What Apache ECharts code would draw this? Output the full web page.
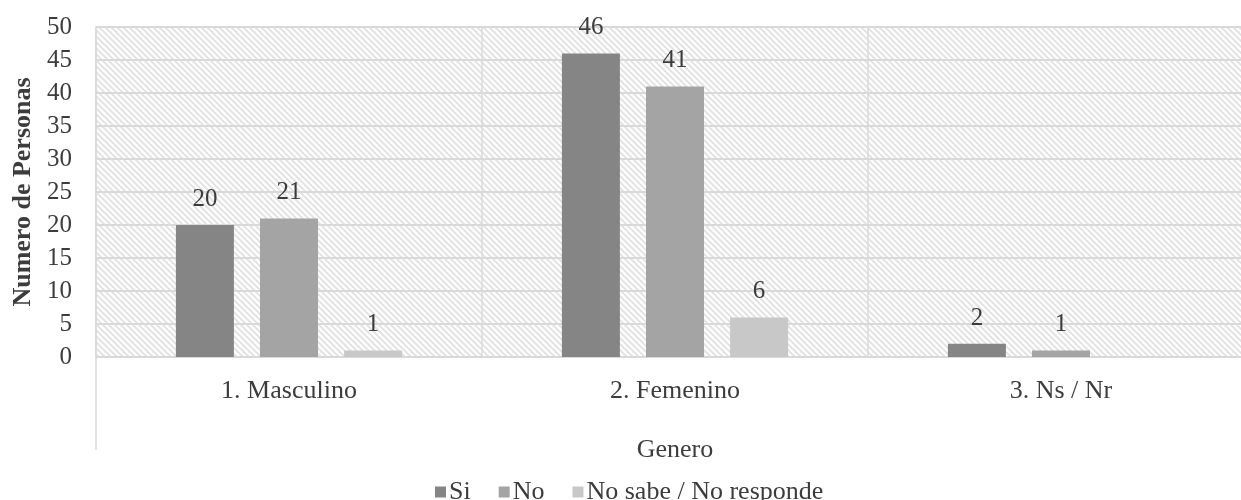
<!DOCTYPE html>
<html><head><meta charset="utf-8">
<script src="https://cdn.jsdelivr.net/npm/echarts@6/dist/echarts.min.js"></script>
<style>html,body{margin:0;padding:0;background:#fff}#c{width:1241px;height:500px}</style>
</head><body><div id="c"></div>
<script>
var categories = ['1. Masculino', '2. Femenino', '3. Ns / Nr'];
var seriesNames = ['Si', 'No', 'No sabe / No responde'];
var siValues = [20, 46, 2];
var noValues = [21, 41, 1];
var nsValues = [1, 6, null];
var yTicks = [0, 5, 10, 15, 20, 25, 30, 35, 40, 45, 50];

var colors = ['#858585', '#a4a4a4', '#c8c8c8'];
var font = '"Liberation Serif", "DejaVu Serif", serif';
var txt = '#3c3c3c';

var pc = document.createElement('canvas');
var P = 6;
pc.width = P; pc.height = P;
var ctx = pc.getContext('2d');
ctx.fillStyle = '#ffffff'; ctx.fillRect(0, 0, P, P);
ctx.strokeStyle = '#e0e0e0'; ctx.lineWidth = 1.8;
ctx.beginPath();
ctx.moveTo(-1, -1); ctx.lineTo(P + 1, P + 1);
ctx.moveTo(-P - 1, -1); ctx.lineTo(1, P + 1);
ctx.moveTo(P - 1, -1); ctx.lineTo(2 * P + 1, P + 1);
ctx.stroke();

var chart = echarts.init(document.getElementById('c'));
function mk(i, data) {
  return {
    name: seriesNames[i], type: 'bar', data: data,
    barWidth: 58, barGap: '45%',
    itemStyle: { color: colors[i] },
    label: { show: true, position: 'top', distance: 13, color: txt, fontFamily: font, fontSize: 25 }
  };
}
chart.setOption({
  animation: false,
  textStyle: { fontFamily: font },
  grid: { left: 96, width: 1158, top: 27, bottom: 143, show: true, borderWidth: 0,
          outerBoundsMode: 'none', containLabel: false,
          backgroundColor: { image: pc, repeat: 'repeat' } },
  legend: {
    data: seriesNames, left: 430, top: 474, itemWidth: 11, itemHeight: 11, itemGap: 28,
    icon: 'rect',
    textStyle: { fontFamily: font, fontSize: 26, color: txt, padding: [0, 0, 0, -2] }
  },
  xAxis: {
    type: 'category', data: categories,
    name: 'Genero', nameLocation: 'middle', nameGap: 80,
    nameTextStyle: { fontFamily: font, fontSize: 26, color: txt },
    axisLine: { show: true, lineStyle: { color: '#d9d9d9', width: 1.5 } },
    axisTick: { show: true, length: 93, lineStyle: { color: '#d9d9d9', width: 1.5 },
                interval: function (idx) { return idx === 0; } },
    axisLabel: { fontFamily: font, fontSize: 26, color: txt, margin: 21 },
    splitLine: { show: true, lineStyle: { color: '#dadada', width: 1.5 } }
  },
  yAxis: {
    type: 'value', min: yTicks[0], max: yTicks[yTicks.length - 1], interval: 5,
    name: 'Numero de Personas', nameLocation: 'middle', nameGap: 60,
    nameTextStyle: { fontFamily: font, fontSize: 26, fontWeight: 'bold', color: txt },
    axisLine: { show: true, lineStyle: { color: '#d9d9d9', width: 1.5 } },
    axisTick: { show: false },
    axisLabel: { fontFamily: font, fontSize: 25, color: txt, margin: 24 },
    splitLine: { show: true, lineStyle: { color: '#d9d9d9', width: 1.8 } }
  },
  series: [mk(0, siValues), mk(1, noValues), mk(2, nsValues)]
});
</script></body></html>
